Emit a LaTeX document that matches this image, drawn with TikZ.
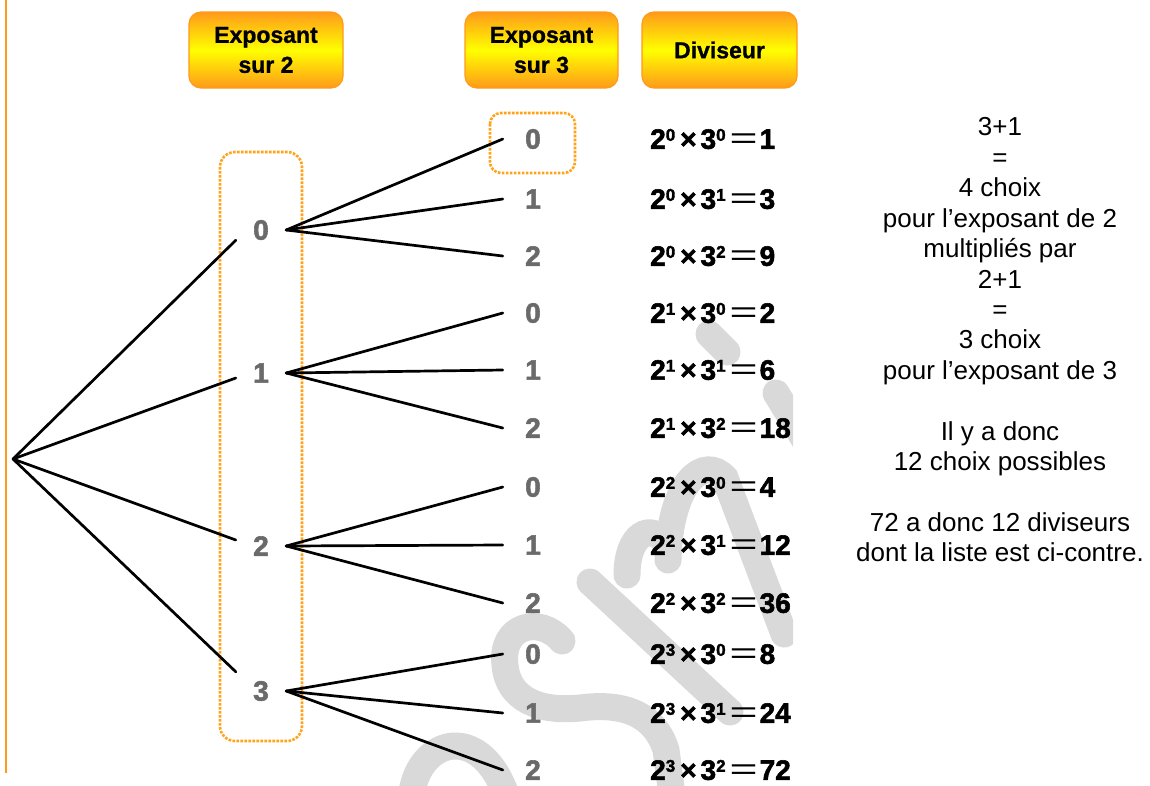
\documentclass[tikz,border=0pt]{standalone}
\usepackage{fontspec}
\setmainfont{Liberation Sans}
\newfontfamily\heavy[FakeBold=2]{Liberation Sans Bold}
\newfontfamily\semiheavy[FakeBold=1]{Liberation Sans Bold}
\newfontfamily\plain{Liberation Sans}
\definecolor{orng}{HTML}{FF9A1A}
\definecolor{dotor}{HTML}{FFA31A}
\definecolor{digitgray}{HTML}{6A6A6A}
\definecolor{wmgray}{HTML}{D9D9D9}
% raised exponent, top aligned with the base digits
\newcommand\ex[1]{\raisebox{8pt}{\fontsize{17}{17}\selectfont #1}}
% wide, thin equals sign
\newcommand\eqs{\scalebox{1.6}[1]{\plain\fontsize{30}{30}\selectfont =}}
% one divisor written as 2^a x 3^b = value
\newcommand\dvs[3]{2\ex{#1}\hspace{5pt}×\hspace{4pt}3\ex{#2}\hspace{4pt}\eqs\hspace{2pt}#3}
\begin{document}
\begin{tikzpicture}[x=1pt,y=-1pt,
  hdr/.style={draw=orng, line width=1.2, rounded corners=12, top color=orng,
    bottom color=orng, middle color=yellow, minimum height=76, inner sep=0,
    align=center, font=\semiheavy\fontsize{23}{30}\selectfont},
  digitnode/.style={inner sep=0, minimum height=20, text=digitgray,
    font=\heavy\fontsize{28}{28}\selectfont},
  lvA/.style={digitnode, minimum width=50},
  lvB/.style={digitnode, minimum width=60},
  branch/.style={line width=2.7, black, line cap=round},
  dotbox/.style={draw=dotor, line width=2.6, dash pattern=on 2.6pt off 1.4pt,
    rounded corners=15},
  frm/.style={anchor=west, inner sep=0, font=\heavy\fontsize{28}{28}\selectfont},
  wm/.style={wmgray, line width=27, line cap=round}]
\useasboundingbox (0,0) rectangle (1150,785);

% watermark letters in the background
\begin{scope}
  \clip (0,0) rectangle (793,785);
  \draw[wm] (412,792) .. controls (420,740) and (478,722) .. (505,792);
  \draw[wm] (562,641) .. controls (540,615) and (500,625) .. (505,665)
            .. controls (508,700) and (540,712) .. (580,708)
            .. controls (625,702) and (655,715) .. (666,750) -- (672,795);
  \draw[wm] (590,582) -- (730,712);
  \draw[wm] (627,575) .. controls (627,535) and (650,520) .. (668,545);
  \draw[wm] (668,560) .. controls (670,480) and (705,455) .. (725,478) -- (784,634);
  \draw[wm] (709,334) -- (727,352);
  \draw[wm] (776,393) -- (812,452);
\end{scope}

% orange rule on the left edge
\draw[orng, line width=2.5] (6,0) -- (6,773);

% column headers
\node[hdr, minimum width=154] (h2) at (266,50) {Exposant\\sur 2};
\node[hdr, minimum width=153] (h3) at (541.5,50) {Exposant\\sur 3};
\node[hdr, minimum width=155] (hd) at (719.5,50) {Diviseur};

% frames
\draw[dotbox] (220,152) rectangle (302,741);
\draw[dotbox, rounded corners=11] (490,113) rectangle (575,173);

% root and first level
\coordinate (root) at (13,459);
\node[lvA] (l0) at (261,230) {0};
\node[lvA] (l1) at (261,373) {1};
\node[lvA] (l2) at (261,546) {2};
\node[lvA] (l3) at (261,691) {3};

\draw[branch] (root) -- (l0.south west);
\draw[branch] (root) -- ([yshift=-5pt]l1.west);
\draw[branch] (root) -- ([yshift=6pt]l2.west);
\draw[branch] (root) -- ([yshift=9pt]l3.north west);

% second level
\node[lvB] (b00) at (533,139) {0};
\node[lvB] (b01) at (533,199) {1};
\node[lvB] (b02) at (533,256) {2};
\node[lvB] (b10) at (533,313) {0};
\node[lvB] (b11) at (533,370) {1};
\node[lvB] (b12) at (533,428) {2};
\node[lvB] (b20) at (533,487) {0};
\node[lvB] (b21) at (533,545) {1};
\node[lvB] (b22) at (533,603) {2};
\node[lvB] (b30) at (533,654) {0};
\node[lvB] (b31) at (533,713) {1};
\node[lvB] (b32) at (533,770) {2};

\foreach \i in {0,1,2,3}{
  \foreach \j in {0,1,2}{
    \draw[branch] (l\i.east) -- (b\i\j.west);
  }
}

% divisors
\node[frm] (d00) at (650,139) {\dvs{0}{0}{1}};
\node[frm] (d01) at (650,199) {\dvs{0}{1}{3}};
\node[frm] (d02) at (650,256) {\dvs{0}{2}{9}};
\node[frm] (d10) at (650,313) {\dvs{1}{0}{2}};
\node[frm] (d11) at (650,370) {\dvs{1}{1}{6}};
\node[frm] (d12) at (650,428) {\dvs{1}{2}{18}};
\node[frm] (d20) at (650,487) {\dvs{2}{0}{4}};
\node[frm] (d21) at (650,545) {\dvs{2}{1}{12}};
\node[frm] (d22) at (650,603) {\dvs{2}{2}{36}};
\node[frm] (d30) at (650,654) {\dvs{3}{0}{8}};
\node[frm] (d31) at (650,713) {\dvs{3}{1}{24}};
\node[frm] (d32) at (650,770) {\dvs{3}{2}{72}};

% explanation
\node[anchor=north, inner sep=0, align=center,
      font=\fontsize{26}{30.43}\selectfont] (txt) at (1000,117.5)
  {3+1\\=\\4 choix\\pour l’exposant de 2\\multipliés par\\2+1\\=\\3 choix\\
   pour l’exposant de 3\\[30.43pt]Il y a donc\\12 choix possibles\\[30.43pt]
   72 a donc 12 diviseurs\\dont la liste est ci-contre.};
\end{tikzpicture}
\end{document}
